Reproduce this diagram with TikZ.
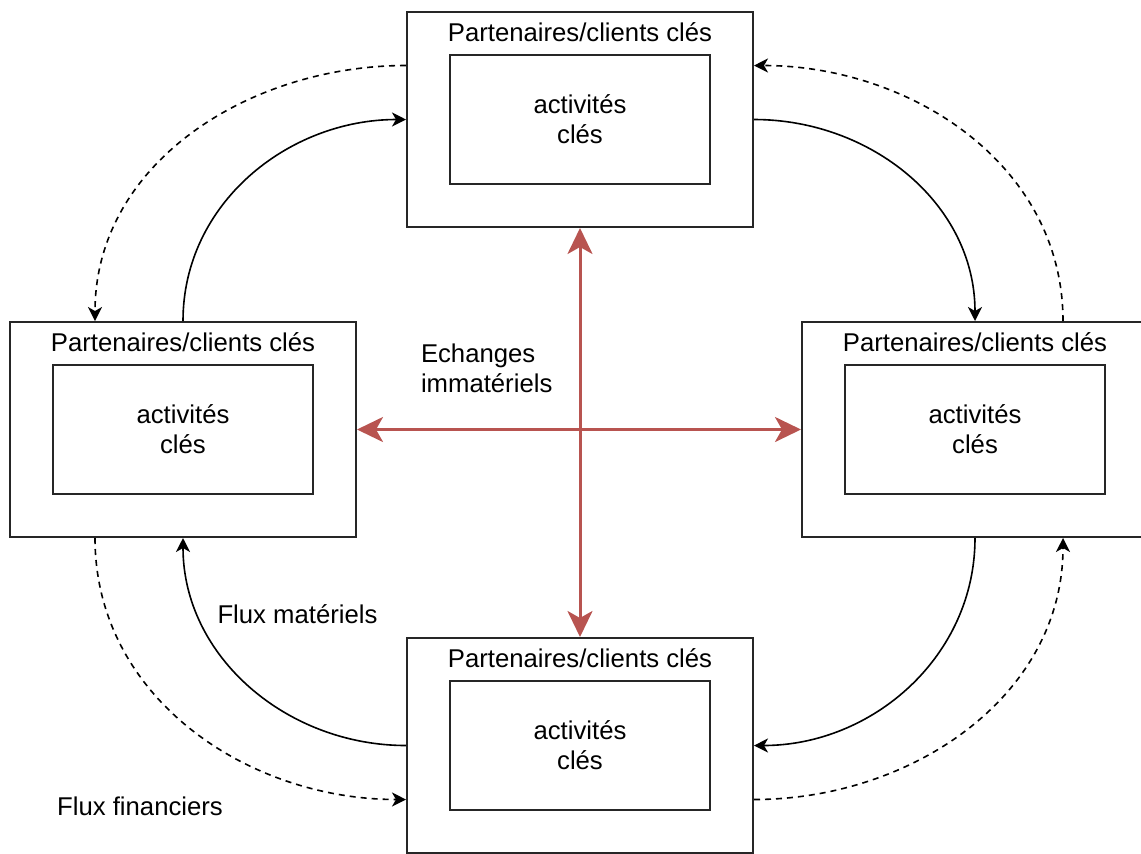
\documentclass[tikz,border=0pt]{standalone}
\usepackage{fontspec}
\setmainfont{Liberation Sans}
\usepackage{xcolor}
\usepackage{tikz}
\usetikzlibrary{shapes,arrows.meta}
\definecolor{echred}{RGB}{184,84,80}

\begin{document}
\begin{tikzpicture}[x=0.5pt, y=-0.5pt]
				\tikzstyle{common} = [draw=black!85, line width=1pt, text badly centered, inner sep=0.3em, font=\fontsize{12.85pt}{15pt}\selectfont]
				\tikzstyle{partner} = [rectangle, common, minimum width=173pt, minimum height=107.5pt]
				\tikzstyle{activity} = [rectangle, common, minimum width=130pt, minimum height=64.5pt, align=center]
				\tikzstyle{heading} = [common, draw=none, anchor=base, inner sep=0]
				\tikzstyle{caption} = [common, draw=none, align=left]
				\tikzstyle{invisible} = [inner sep=0, draw=none, fill=none]
				\tikzstyle{line} = [draw, line width=0.8pt, -{Stealth[length=7pt, width=7pt, inset=2pt]}]
				\tikzstyle{cash} = [line, dash pattern=on 3pt off 2.5pt]
				\tikzstyle{exchange} = [draw=echred, line width=1.5pt, {Stealth[length=13pt, width=12.5pt, inset=3.5pt]}-{Stealth[length=13pt, width=12.5pt, inset=3.5pt]}]
				\useasboundingbox (0,0) rectangle (1141,853);
				\node[partner] (top) at (580,119.5) {};
				\node[invisible, below of=top, node distance=155pt] (mid) {};
				\node[partner, left of=mid, node distance=198.5pt] (left) {};
				\node[partner, right of=mid, node distance=197.5pt] (right) {};
				\node[partner, below of=mid, node distance=158pt] (bottom) {};

				\node[activity] (topact) at (top) {activités\\clés};
				\node[activity] (leftact) at (left) {activités\\clés};
				\node[activity] (rightact) at (right) {activités\\clés};
				\node[activity] (bottomact) at (bottom) {activités\\clés};
				\node[heading] (toph) at ([yshift=-15pt]top.north) {Partenaires/clients clés};
				\node[heading] (lefth) at ([yshift=-15pt]left.north) {Partenaires/clients clés};
				\node[heading] (righth) at ([yshift=-15pt]right.north) {Partenaires/clients clés};
				\node[heading] (bottomh) at ([yshift=-15pt]bottom.north) {Partenaires/clients clés};

				\node[caption, anchor=west] (echlbl) at (414,368) {Echanges\\immatériels};
				\node[caption] (matlbl) at (297.5,614) {Flux matériels};
				\node[caption] (finlbl) at (140,806) {Flux financiers};

				\draw[exchange] (top.south) -- (bottom.north);
				\draw[exchange] (left.east) -- (right.west);
				\draw[line] (left.north) to[out=90, in=180] (top.west);
				\draw[line] (top.east) to[out=0, in=90] (right.north);
				\draw[line] (right.south) to[out=-90, in=0] (bottom.east);
				\draw[line] (bottom.west) to[out=180, in=-90] (left.south);
				\draw[cash] ([yshift=27pt]top.west) to[out=180, in=90] ([xshift=-44pt]left.north);
				\draw[cash] ([xshift=44pt]right.north) to[out=90, in=0] ([yshift=27pt]top.east);
				\draw[cash] ([yshift=-27pt]bottom.east) to[out=0, in=-90] ([xshift=44pt]right.south);
				\draw[cash] ([xshift=-44pt]left.south) to[out=-90, in=180] ([yshift=-27pt]bottom.west);
			\end{tikzpicture}
\end{document}
